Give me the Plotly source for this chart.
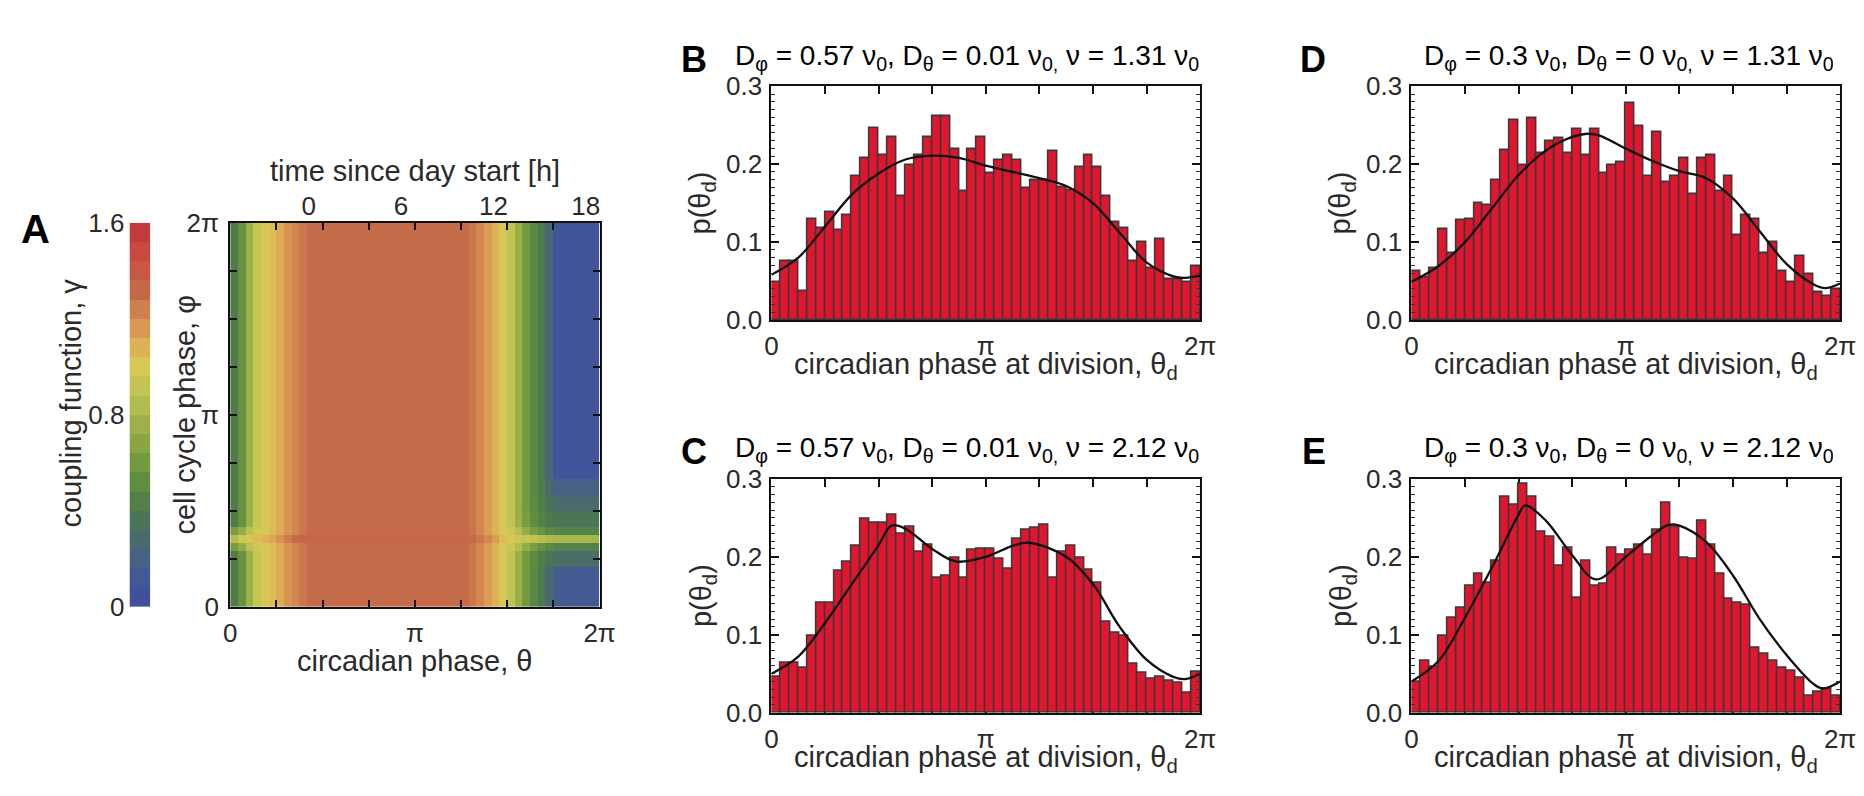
import numpy as np
import plotly.graph_objects as go

PI = np.pi
TWO_PI = 2 * np.pi
W, H = 1864, 796
FONT = "Liberation Sans, Arial, Helvetica, sans-serif"

# ---------------- Panel A: coupling function gamma(theta, phi) ----------------
N_THETA = 48
N_PHI = 48
heat_base = [0.42, 0.55, 0.75, 0.92, 1.00, 1.05, 1.10, 1.18, 1.22, 1.27,
             1.30, 1.30, 1.30, 1.30, 1.30, 1.30, 1.30, 1.30, 1.30, 1.30,
             1.30, 1.30, 1.30, 1.30, 1.30, 1.30, 1.30, 1.30, 1.30, 1.30,
             1.30, 1.27, 1.22, 1.15, 1.08, 1.00, 0.90, 0.75, 0.60, 0.48,
             0.40, 0.25, 0.08, 0.07, 0.07, 0.07, 0.07, 0.08]
heat_line = [0.85, 0.95, 1.00, 1.05, 1.08, 1.12, 1.18, 1.25, 1.30, 1.32,
             1.32, 1.32, 1.32, 1.32, 1.32, 1.32, 1.32, 1.32, 1.32, 1.32,
             1.32, 1.32, 1.32, 1.32, 1.32, 1.32, 1.32, 1.32, 1.32, 1.32,
             1.32, 1.30, 1.27, 1.22, 1.15, 1.05, 1.00, 0.97, 0.93, 0.90,
             0.86, 0.82, 0.80, 0.80, 0.80, 0.80, 0.80, 0.80]
heat_edge = ([0.62, 0.72, 0.88, 0.98] + heat_base[4:36] +
             [0.95, 0.85, 0.72, 0.62, 0.55, 0.50, 0.46, 0.45, 0.45, 0.45, 0.45, 0.45])
heat_above = heat_base[:38] + [0.62, 0.52, 0.45, 0.40, 0.37, 0.36, 0.36, 0.36, 0.36, 0.36]
heat_upper = heat_base[:39] + [0.50, 0.43, 0.34, 0.29, 0.28, 0.28, 0.28, 0.28, 0.28]
heat_upper2 = heat_base[:39] + [0.48, 0.41, 0.28, 0.20, 0.19, 0.19, 0.19, 0.19, 0.19]
heat_below = heat_base[:39] + [0.50, 0.43, 0.35, 0.31, 0.30, 0.30, 0.30, 0.30, 0.30]
heat_bottom = heat_base[:41] + [0.27, 0.16, 0.14, 0.13, 0.13, 0.13, 0.14]
heat_profiles = {"base": heat_base, "line": heat_line, "edge": heat_edge,
                 "above": heat_above, "upper": heat_upper, "upper2": heat_upper2,
                 "below": heat_below, "bottom": heat_bottom}
# row kinds from phi = 0 (bottom) to phi = 2pi (top)
row_kind = (["bottom"] * 5 + ["below"] * 2 + ["edge", "line", "edge"] +
            ["above"] * 2 + ["upper"] * 2 + ["upper2"] * 2 + ["base"] * 32)

colorbar_levels = [0.04, 0.12, 0.20, 0.28, 0.36, 0.44, 0.52, 0.60, 0.68, 0.76,
                   0.84, 0.92, 1.00, 1.08, 1.16, 1.24, 1.32, 1.40, 1.48, 1.56]
gamma_max = 1.6
colorscale = [[0.0, "#3d4d9c"], [0.0625, "#43569a"], [0.125, "#486084"],
              [0.1875, "#4a6d68"], [0.25, "#4c7a4c"], [0.3125, "#5c8a43"],
              [0.375, "#739a40"], [0.4375, "#8fa944"], [0.5, "#a8b74c"],
              [0.5625, "#c0c453"], [0.625, "#d5c856"], [0.65625, "#dbbc55"],
              [0.6875, "#ddac55"], [0.75, "#d58e50"], [0.8125, "#c66b4a"],
              [0.875, "#c85746"], [0.9375, "#c74640"], [1.0, "#bf3639"]]

hour_ticks = [0, 6, 12, 18]
hour_range = [-5.1, 18.9]   # day-time axis spanning theta in [0, 2pi]

# ---------------- Panels B-E: histograms of circadian phase at division ----------------
N_BINS = 48
hist_B = [0.048, 0.076, 0.076, 0.037, 0.130, 0.118, 0.139, 0.115, 0.134, 0.185,
          0.208, 0.246, 0.211, 0.235, 0.159, 0.199, 0.212, 0.235, 0.262, 0.262,
          0.219, 0.165, 0.219, 0.235, 0.189, 0.205, 0.211, 0.205, 0.169, 0.180,
          0.180, 0.216, 0.171, 0.167, 0.196, 0.211, 0.196, 0.159, 0.126, 0.118,
          0.076, 0.100, 0.067, 0.104, 0.053, 0.053, 0.048, 0.069]
hist_C = [0.046, 0.064, 0.064, 0.057, 0.098, 0.141, 0.141, 0.182, 0.193, 0.214,
          0.249, 0.243, 0.244, 0.254, 0.230, 0.239, 0.206, 0.215, 0.173, 0.176,
          0.199, 0.173, 0.209, 0.210, 0.210, 0.197, 0.185, 0.223, 0.234, 0.237,
          0.241, 0.173, 0.206, 0.214, 0.199, 0.183, 0.166, 0.117, 0.103, 0.099,
          0.063, 0.051, 0.044, 0.046, 0.041, 0.038, 0.025, 0.052]
hist_D = [0.063, 0.055, 0.067, 0.117, 0.086, 0.128, 0.130, 0.150, 0.147, 0.180,
          0.218, 0.256, 0.199, 0.259, 0.214, 0.229, 0.233, 0.214, 0.245, 0.211,
          0.245, 0.188, 0.199, 0.203, 0.278, 0.249, 0.185, 0.241, 0.177, 0.185,
          0.207, 0.161, 0.207, 0.211, 0.165, 0.185, 0.109, 0.134, 0.130, 0.086,
          0.100, 0.063, 0.048, 0.082, 0.059, 0.036, 0.031, 0.040]
hist_E = [0.040, 0.067, 0.059, 0.099, 0.122, 0.134, 0.163, 0.178, 0.166, 0.195,
          0.277, 0.267, 0.293, 0.277, 0.232, 0.225, 0.188, 0.212, 0.147, 0.195,
          0.163, 0.165, 0.212, 0.202, 0.209, 0.215, 0.203, 0.234, 0.269, 0.238,
          0.199, 0.197, 0.246, 0.215, 0.178, 0.146, 0.141, 0.139, 0.083, 0.075,
          0.067, 0.058, 0.054, 0.045, 0.022, 0.027, 0.030, 0.022]

# fitted densities: positions as fractions of 2pi, and values
curve_B_frac = [0, 0.0625, 0.125, 0.1875, 0.25, 0.3125, 0.375, 0.4375, 0.5, 0.5625,
                0.625, 0.6875, 0.75, 0.8125, 0.875, 0.9375, 0.96, 1.0]
curve_B_val = [0.058, 0.080, 0.120, 0.161, 0.188, 0.206, 0.211, 0.208, 0.198, 0.190,
               0.182, 0.172, 0.150, 0.112, 0.074, 0.056, 0.054, 0.057]
curve_C_frac = [0, 0.0625, 0.125, 0.1875, 0.25, 0.28, 0.3125, 0.375, 0.43, 0.5,
                0.5625, 0.6, 0.6875, 0.75, 0.8125, 0.875, 0.9375, 0.965, 1.0]
curve_C_val = [0.050, 0.072, 0.115, 0.165, 0.215, 0.240, 0.236, 0.210, 0.194, 0.200,
               0.214, 0.218, 0.200, 0.165, 0.110, 0.068, 0.046, 0.043, 0.050]
curve_D_frac = [0, 0.0625, 0.125, 0.1875, 0.25, 0.3125, 0.375, 0.41, 0.4375, 0.5,
                0.5625, 0.625, 0.6875, 0.75, 0.8125, 0.875, 0.9375, 0.965, 1.0]
curve_D_val = [0.049, 0.069, 0.100, 0.143, 0.186, 0.217, 0.235, 0.239, 0.237, 0.220,
               0.204, 0.191, 0.182, 0.156, 0.114, 0.072, 0.046, 0.041, 0.047]
curve_E_frac = [0, 0.0625, 0.125, 0.1875, 0.25, 0.265, 0.3125, 0.375, 0.43, 0.5,
                0.5625, 0.6, 0.625, 0.6875, 0.75, 0.8125, 0.875, 0.9375, 0.96, 1.0]
curve_E_val = [0.040, 0.066, 0.122, 0.186, 0.254, 0.266, 0.247, 0.202, 0.171, 0.200,
               0.228, 0.241, 0.240, 0.219, 0.176, 0.120, 0.074, 0.037, 0.031, 0.040]

panel_titles = {
    "B": "D<sub>φ</sub> = 0.57 ν<sub>0</sub>, D<sub>θ</sub> = 0.01 ν<sub>0,</sub> ν = 1.31 ν<sub>0</sub>",
    "C": "D<sub>φ</sub> = 0.57 ν<sub>0</sub>, D<sub>θ</sub> = 0.01 ν<sub>0,</sub> ν = 2.12 ν<sub>0</sub>",
    "D": "D<sub>φ</sub> = 0.3 ν<sub>0</sub>, D<sub>θ</sub> = 0 ν<sub>0,</sub> ν = 1.31 ν<sub>0</sub>",
    "E": "D<sub>φ</sub> = 0.3 ν<sub>0</sub>, D<sub>θ</sub> = 0 ν<sub>0,</sub> ν = 2.12 ν<sub>0</sub>",
}

# ---------------- layout geometry (pixels) ----------------
HM_L, HM_R, HM_T, HM_B = 226, 600, 216, 615
CB_L, CB_R = 124, 145
HIST_W, HIST_H = 434, 243
hist_pos = {"B": (774, 74), "C": (774, 482), "D": (1422, 74), "E": (1422, 482)}
letter_right = {"B": 711, "C": 711, "D": 1337, "E": 1337}
title_center = {"B": 972, "C": 972, "D": 1642, "E": 1642}


def px_x(p):
    return p / W


def px_y(p):
    return 1 - p / H


RED = "#e2152e"
EDGE = "#3a3a3a"
AX = "#111111"
TXT = "#2a2a2a"

fig = go.Figure()

# heat map
z = [heat_profiles[k] for k in row_kind]
fig.add_trace(go.Heatmap(z=z, x0=TWO_PI / N_THETA / 2, dx=TWO_PI / N_THETA,
                         y0=TWO_PI / N_PHI / 2, dy=TWO_PI / N_PHI,
                         colorscale=colorscale, zmin=0, zmax=gamma_max,
                         showscale=False, zsmooth=False, hoverinfo="skip",
                         xaxis="x", yaxis="y"))
# invisible trace so that the top (hours) axis is drawn
fig.add_trace(go.Scatter(x=hour_ticks, y=[None] * len(hour_ticks), mode="markers",
                         marker=dict(opacity=0), xaxis="x7", yaxis="y", hoverinfo="skip"))
# colour bar drawn as a one-column heat map
fig.add_trace(go.Heatmap(z=[[v] for v in colorbar_levels], x=[0], y=colorbar_levels,
                         colorscale=colorscale, zmin=0, zmax=gamma_max,
                         showscale=False, hoverinfo="skip", xaxis="x2", yaxis="y2"))

hists = {"B": (hist_B, curve_B_frac, curve_B_val), "C": (hist_C, curve_C_frac, curve_C_val),
         "D": (hist_D, curve_D_frac, curve_D_val), "E": (hist_E, curve_E_frac, curve_E_val)}
axis_num = {"B": 3, "C": 4, "D": 5, "E": 6}
bin_w = TWO_PI / N_BINS
centers = (np.arange(N_BINS) + 0.5) * bin_w
for key, (vals, cf, cv) in hists.items():
    n = axis_num[key]
    fig.add_trace(go.Bar(x=centers, y=vals, width=bin_w,
                         marker=dict(color=RED, line=dict(color=EDGE, width=1.6)),
                         xaxis=f"x{n}", yaxis=f"y{n}", hoverinfo="skip"))
    fig.add_trace(go.Scatter(x=np.array(cf) * TWO_PI, y=cv, mode="lines",
                             line=dict(color="#111", width=2.3, shape="spline", smoothing=1.0),
                             xaxis=f"x{n}", yaxis=f"y{n}", hoverinfo="skip"))

tickfont = dict(family=FONT, size=26, color=TXT)
layout = dict(width=W, height=H, margin=dict(l=0, r=0, t=0, b=0),
              paper_bgcolor="white", plot_bgcolor="white", showlegend=False,
              font=dict(family=FONT, size=26, color=TXT), bargap=0)

pi_vals = [0, PI, TWO_PI]
pi_text = ["0", "π", "2π"]
layout["xaxis"] = dict(domain=[px_x(HM_L), px_x(HM_R)], anchor="y", range=[0, TWO_PI],
                       tickvals=pi_vals, ticktext=pi_text, ticks="inside", ticklen=7, tickwidth=1.5, tickcolor=AX,
                       minor=dict(tickmode="linear", tick0=0, dtick=PI / 4, ticks="inside", ticklen=7,
                                  tickwidth=1.5, tickcolor=AX),
                       showline=True, linewidth=2, linecolor=AX, mirror="ticks", showgrid=False, zeroline=False,
                       tickfont=tickfont, ticklabelstandoff=2)
layout["yaxis"] = dict(domain=[px_y(HM_B), px_y(HM_T)], anchor="x", range=[0, TWO_PI],
                       tickvals=pi_vals, ticktext=pi_text, ticks="inside", ticklen=7, tickwidth=1.5, tickcolor=AX,
                       minor=dict(tickmode="linear", tick0=0, dtick=PI / 4, ticks="inside", ticklen=7,
                                  tickwidth=1.5, tickcolor=AX),
                       showline=True, linewidth=2, linecolor=AX, mirror="ticks", showgrid=False, zeroline=False,
                       tickfont=tickfont, ticklabelstandoff=4)
layout["xaxis7"] = dict(overlaying="x", anchor="y", side="top", range=hour_range,
                        tickvals=hour_ticks, ticktext=[str(h) for h in hour_ticks], ticks="",
                        showline=False, showgrid=False, zeroline=False, tickfont=tickfont,
                        ticklabelstandoff=2)
layout["xaxis2"] = dict(domain=[px_x(CB_L), px_x(CB_R)], anchor="y2", range=[-0.5, 0.5],
                        visible=False, showgrid=False, zeroline=False)
layout["yaxis2"] = dict(domain=[px_y(HM_B), px_y(HM_T)], anchor="x2", range=[0, gamma_max],
                        tickvals=[0, 0.8, 1.6], ticktext=["0", "0.8", "1.6"], ticks="",
                        showline=False, showgrid=False, zeroline=False, tickfont=tickfont,
                        ticklabelstandoff=4)

for key, (left, top) in hist_pos.items():
    n = axis_num[key]
    layout[f"xaxis{n}"] = dict(domain=[px_x(left), px_x(left + HIST_W)], anchor=f"y{n}", range=[0, TWO_PI],
                               tickvals=pi_vals, ticktext=pi_text, ticks="inside", ticklen=8, tickwidth=1.5,
                               tickcolor=AX,
                               minor=dict(tickmode="linear", tick0=0, dtick=PI / 4, ticks="inside", ticklen=8,
                                          tickwidth=1.5, tickcolor=AX),
                               showline=True, linewidth=2, linecolor=AX, mirror="ticks", showgrid=False,
                               zeroline=False, layer="below traces", tickfont=tickfont, ticklabelstandoff=2)
    layout[f"yaxis{n}"] = dict(domain=[px_y(top + HIST_H), px_y(top)], anchor=f"x{n}", range=[0, 0.3],
                               tickvals=[0, 0.1, 0.2, 0.3], tickformat=".1f", ticks="inside", ticklen=8,
                               tickwidth=1.5, tickcolor=AX,
                               minor=dict(tickmode="linear", tick0=0, dtick=0.01, ticks="inside", ticklen=4,
                                          tickwidth=1, tickcolor="#333"),
                               showline=True, linewidth=2, linecolor=AX, mirror="ticks", showgrid=False,
                               zeroline=False, tickfont=tickfont, ticklabelstandoff=2)

ann = []


def add_text(text, x, y, size=29, color=TXT, bold=False, angle=0, xanchor="center", yanchor="middle"):
    ann.append(dict(text=f"<b>{text}</b>" if bold else text, x=px_x(x), y=px_y(y), xref="paper", yref="paper",
                    showarrow=False, textangle=angle, xanchor=xanchor, yanchor=yanchor,
                    font=dict(family=FONT, size=size, color=color)))


# panel A texts
add_text("A", 12, 222, size=40, color="#000", bold=True, xanchor="left")
add_text("time since day start [h]", (HM_L + HM_R) / 2, 162)
add_text("circadian phase, θ", (HM_L + HM_R) / 2, 671)
add_text("cell cycle phase, φ", 180, (HM_T + HM_B) / 2, angle=-90)
add_text("coupling function, γ", 65, (HM_T + HM_B) / 2 - 12, angle=-90)

for key, (left, top) in hist_pos.items():
    cx = left + HIST_W / 2
    add_text(key, letter_right[key], top - 28, size=36, color="#000", bold=True, xanchor="right")
    add_text(panel_titles[key], title_center[key], top - 30, size=28, color="#000")
    add_text("circadian phase at division, θ<sub>d</sub>", cx, top + HIST_H + 48)
    add_text("p(θ<sub>d</sub>)", left - 70, top + HIST_H / 2, angle=-90)

layout["annotations"] = ann
fig.update_layout(**layout)
fig.write_html("out.html")
